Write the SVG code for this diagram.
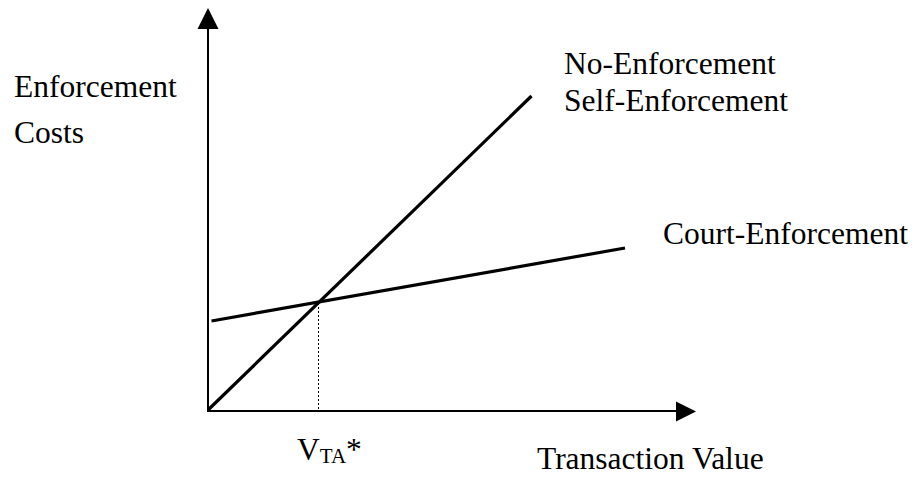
<svg xmlns="http://www.w3.org/2000/svg" width="919" height="481" viewBox="0 0 919 481">
<style>
.t{font-family:"Liberation Serif","Times New Roman",serif;font-size:31.5px;fill:#000}
.ax{stroke:#000;stroke-width:2;fill:none}
.ln{stroke:#000;stroke-width:3.2;fill:none;stroke-linecap:butt}
</style>
<rect width="919" height="481" fill="#fff"/>
<g id="axes">
<line class="ax" x1="208" y1="411" x2="208" y2="28"/>
<polygon points="208,8 197.5,29 218.5,29" fill="#000"/>
<line class="ax" x1="207" y1="411" x2="677" y2="411"/>
<polygon points="696,411.5 676,401.5 676,421.5" fill="#000"/>
</g>
<g id="connectors">
<line id="self-line" class="ln" x1="208" y1="410" x2="531.5" y2="96"/>
<line id="court-line" class="ln" x1="211.5" y1="321" x2="625" y2="248"/>
<line id="drop" x1="318.5" y1="303" x2="318.5" y2="410" stroke="#000" stroke-width="1" stroke-dasharray="2 2"/>
</g>
<g id="label-yaxis">
<text class="t" x="14" y="97">Enforcement</text>
<text class="t" x="14" y="143">Costs</text>
</g>
<g id="label-self">
<text class="t" x="564" y="73.5">No-Enforcement</text>
<text class="t" x="564" y="110.5">Self-Enforcement</text>
</g>
<g id="label-court">
<text class="t" x="663" y="244">Court-Enforcement</text>
</g>
<g id="label-xaxis">
<text class="t" x="537" y="469">Transaction Value</text>
</g>
<g id="label-vta">
<text class="t" x="297" y="460">V<tspan font-size="21" dy="3">TA</tspan><tspan dy="-3">*</tspan></text>
</g>
</svg>
